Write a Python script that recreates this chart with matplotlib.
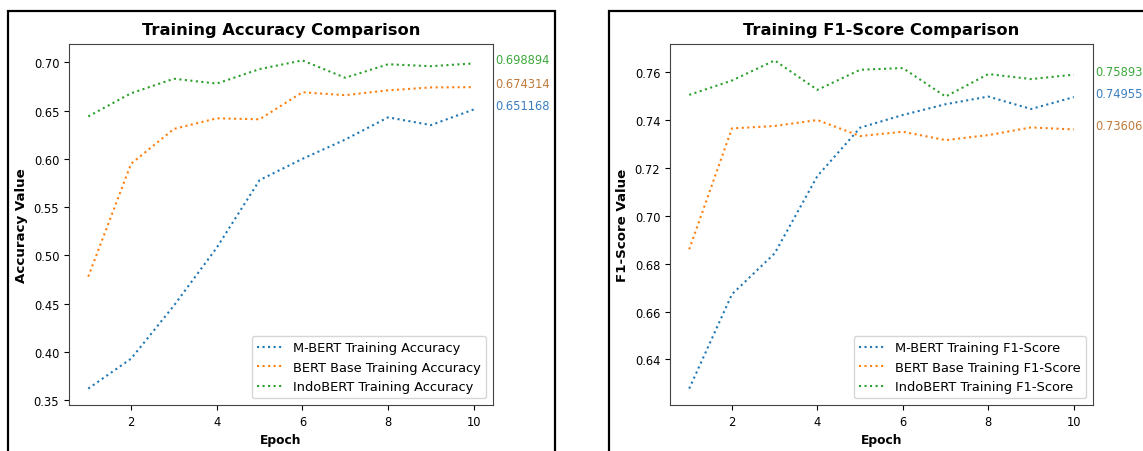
import matplotlib
matplotlib.use('Agg')
import matplotlib.pyplot as plt
from matplotlib.patches import Rectangle

epochs = [1, 2, 3, 4, 5, 6, 7, 8, 9, 10]

# training accuracy per epoch
mbert_acc = [0.362, 0.393, 0.448, 0.508, 0.578, 0.600, 0.620, 0.643, 0.635, 0.651168]
bert_base_acc = [0.478, 0.595, 0.631, 0.642, 0.641, 0.669, 0.666, 0.671, 0.674, 0.674314]
indobert_acc = [0.644, 0.668, 0.683, 0.678, 0.693, 0.702, 0.684, 0.698, 0.696, 0.698894]

# training f1-score per epoch
mbert_f1 = [0.6278, 0.6672, 0.6843, 0.7166, 0.7368, 0.7421, 0.7466, 0.7498, 0.7446, 0.749558]
bert_base_f1 = [0.686, 0.7365, 0.7375, 0.7400, 0.7333, 0.7351, 0.7316, 0.7337, 0.7369, 0.736061]
indobert_f1 = [0.7505, 0.7565, 0.7649, 0.7526, 0.7610, 0.7617, 0.7498, 0.7592, 0.7571, 0.758937]

acc_labels = ['M-BERT Training Accuracy', 'BERT Base Training Accuracy', 'IndoBERT Training Accuracy']
f1_labels = ['M-BERT Training F1-Score', 'BERT Base Training F1-Score', 'IndoBERT Training F1-Score']
colors = ['#1f77b4', '#ff7f0e', '#2ca02c']
text_colors = ['#3a7dbf', '#c07a3a', '#3ca83c']

plt.rcParams['font.size'] = 8.3

fig = plt.figure(figsize=(11.43, 4.52), dpi=100)
W, H = 1143, 452

def px_axes(left, top, right, bottom):
    return fig.add_axes([left / W, 1 - bottom / H, (right - left) / W, (bottom - top) / H])

ax1 = px_axes(69, 45, 493, 406)
ax2 = px_axes(670, 45, 1093, 406)

def draw(ax, series, labels, title, ylabel):
    for vals, lab, c, tc in zip(series, labels, colors, text_colors):
        ax.plot(epochs, vals, linestyle=':', color=c, label=lab, linewidth=1.5)
        ax.text(epochs[-1] + 0.5, vals[-1], f'{vals[-1]:.6f}', color=tc, fontsize=8.3, clip_on=False)
    ax.set_title(title, fontweight='bold', fontsize=11.7, pad=7.5)
    ax.set_xlabel('Epoch', fontweight='bold', fontsize=8.8)
    ax.set_ylabel(ylabel, fontweight='bold', fontsize=9.6)
    ax.legend(loc='lower right', fontsize=9.4)
    for s in ax.spines.values():
        s.set_color('#444444')

draw(ax1, [mbert_acc, bert_base_acc, indobert_acc], acc_labels,
     'Training Accuracy Comparison', 'Accuracy Value')
draw(ax2, [mbert_f1, bert_base_f1, indobert_f1], f1_labels,
     'Training F1-Score Comparison', 'F1-Score Value')

# black frames around each panel (as in the screenshot)
fig.add_artist(Rectangle((8 / W, -0.1), (555 - 8) / W, 1.1 - 12 / H, transform=fig.transFigure,
                         fill=False, edgecolor='black', linewidth=1.6, clip_on=False))
fig.add_artist(Rectangle((609 / W, -0.1), 0.6, 1.1 - 12 / H, transform=fig.transFigure,
                         fill=False, edgecolor='black', linewidth=1.6, clip_on=False))

fig.savefig('out.png', dpi=100)
